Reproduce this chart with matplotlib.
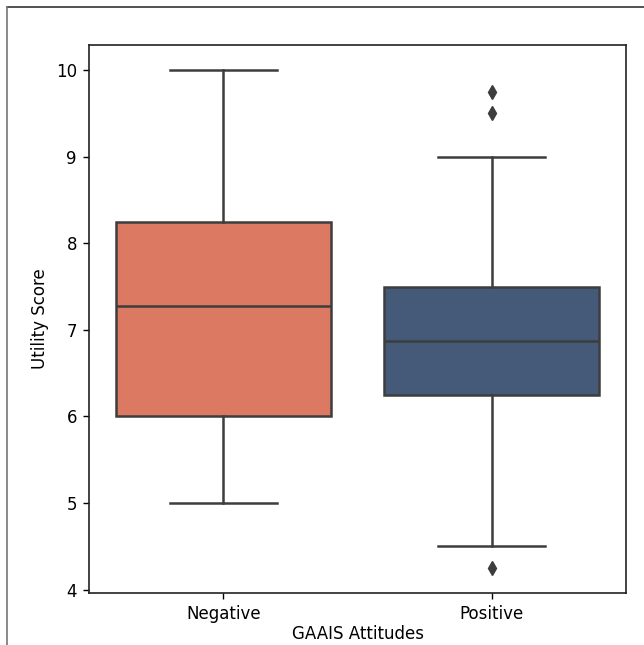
import matplotlib
matplotlib.use('Agg')
import matplotlib.pyplot as plt
from matplotlib.lines import Line2D

# 数据
categories = ['Negative', 'Positive']
whisker_low = [5.0, 4.5]
q1 = [6.0, 6.25]
medians = [7.27, 6.875]
q3 = [8.25, 7.5]
whisker_high = [10.0, 9.0]
outliers = [[], [9.5, 9.75, 4.25]]
box_colors = ['#DC7963', '#455A79']

line_color = '#3d3d3d'

fig = plt.figure(figsize=(6.44, 6.45), dpi=100)
ax = fig.add_axes([89 / 644, 1 - 593 / 645, (626 - 89) / 644, (593 - 45) / 645])

stats = []
for i, cat in enumerate(categories):
    stats.append({
        'label': cat,
        'whislo': whisker_low[i],
        'q1': q1[i],
        'med': medians[i],
        'q3': q3[i],
        'whishi': whisker_high[i],
        'fliers': outliers[i],
    })

bp = ax.bxp(stats, positions=range(len(categories)), widths=0.8, patch_artist=True,
            showfliers=True,
            boxprops=dict(edgecolor=line_color, linewidth=1.8),
            medianprops=dict(color=line_color, linewidth=1.8),
            whiskerprops=dict(color=line_color, linewidth=1.8),
            capprops=dict(color=line_color, linewidth=1.8),
            flierprops=dict(marker='d', markerfacecolor=line_color, markeredgecolor=line_color,
                            markersize=7, linestyle='none'))
for patch, c in zip(bp['boxes'], box_colors):
    patch.set_facecolor(c)
for cap in bp['caps']:
    xd = cap.get_xdata()
    mid = (xd[0] + xd[1]) / 2
    cap.set_xdata([mid - 0.2, mid + 0.2])

ax.set_xlim(-0.5, 1.5)
ax.set_ylim(3.96, 10.29)
ax.set_yticks([4, 5, 6, 7, 8, 9, 10])
ax.set_xticks(range(len(categories)))
ax.set_xticklabels(categories)
ax.tick_params(labelsize=12, length=4.5, width=1.0, pad=4.2)
ax.set_xlabel('GAAIS Attitudes', fontsize=12, labelpad=1.5)
ax.set_ylabel('Utility Score', fontsize=12, labelpad=4.8)
for s in ax.spines.values():
    s.set_linewidth(1.2)
    s.set_color('#222222')

# 截图边框
fig.add_artist(Line2D([7 / 644, 1], [1 - 7 / 645, 1 - 7 / 645], color='#333333', linewidth=1.2))
fig.add_artist(Line2D([7 / 644, 7 / 644], [0, 1 - 7 / 645], color='#777777', linewidth=1.2))

plt.savefig('out.png', dpi=100)
